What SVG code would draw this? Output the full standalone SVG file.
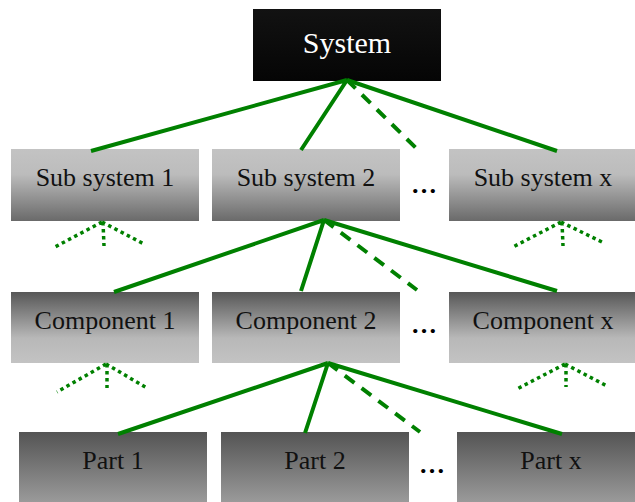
<svg xmlns="http://www.w3.org/2000/svg" width="635" height="502" viewBox="0 0 635 502">
  <defs>
    <linearGradient id="gSys" x1="0" y1="0" x2="0" y2="1">
      <stop offset="0" stop-color="#121212"/>
      <stop offset="1" stop-color="#050505"/>
    </linearGradient>
    <linearGradient id="gSub" x1="0" y1="0" x2="0" y2="1">
      <stop offset="0" stop-color="#c3c3c3"/>
      <stop offset="0.35" stop-color="#bcbcbc"/>
      <stop offset="1" stop-color="#6a6a6a"/>
    </linearGradient>
    <linearGradient id="gComp" x1="0" y1="0" x2="0" y2="1">
      <stop offset="0" stop-color="#575757"/>
      <stop offset="0.65" stop-color="#b8b8b8"/>
      <stop offset="1" stop-color="#c3c3c3"/>
    </linearGradient>
    <linearGradient id="gPart" x1="0" y1="0" x2="0" y2="1">
      <stop offset="0" stop-color="#545454"/>
      <stop offset="1" stop-color="#9c9c9c"/>
    </linearGradient>
  </defs>
  <style>
    text { font-size: 26px; text-anchor: middle; fill: #111; }
    .sys text { fill: #fff; font-size: 30px; }
    .solid { stroke: #008000; stroke-width: 4; fill: none; }
    .dash { stroke: #008000; stroke-width: 4; fill: none; stroke-dasharray: 12 9; }
    .dot { stroke: #008000; stroke-width: 3.5; fill: none; stroke-dasharray: 3.5 3.5; }
    .ell text { fill: #000; font-weight: bold; }
  </style>

  <g font-family="'Liberation Serif', 'Times New Roman', Times, 'DejaVu Serif', serif">
  <!-- nodes -->
  <g id="system" class="sys">
    <rect x="253" y="9" width="188" height="72" fill="url(#gSys)"/>
    <text x="347" y="53">System</text>
  </g>

  <g id="sub1"><rect x="11" y="149" width="188" height="72" fill="url(#gSub)"/><text x="105" y="186">Sub system 1</text></g>
  <g id="sub2"><rect x="212" y="149" width="188" height="72" fill="url(#gSub)"/><text x="306" y="186">Sub system 2</text></g>
  <g id="subx"><rect x="449" y="149" width="188" height="72" fill="url(#gSub)"/><text x="543" y="186">Sub system x</text></g>

  <g id="comp1"><rect x="11" y="292" width="188" height="71" fill="url(#gComp)"/><text x="105" y="329">Component 1</text></g>
  <g id="comp2"><rect x="212" y="292" width="188" height="71" fill="url(#gComp)"/><text x="306" y="329">Component 2</text></g>
  <g id="compx"><rect x="449" y="292" width="188" height="71" fill="url(#gComp)"/><text x="543" y="329">Component x</text></g>

  <g id="part1"><rect x="19" y="432" width="188" height="72" fill="url(#gPart)"/><text x="113" y="469">Part 1</text></g>
  <g id="part2"><rect x="221" y="432" width="188" height="72" fill="url(#gPart)"/><text x="315" y="469">Part 2</text></g>
  <g id="partx"><rect x="457" y="432" width="188" height="72" fill="url(#gPart)"/><text x="551" y="469">Part x</text></g>

  <g id="ellipses" class="ell">
    <text x="424" y="193">…</text>
    <text x="424" y="333">…</text>
    <text x="432" y="473">…</text>
  </g>
  </g>

  <!-- connectors -->
  <g id="connectors">
    <path class="solid" d="M347 80 L91 151 M347 80 L301 150 M347 80 L557 151"/>
    <path class="dash" d="M347 80 L416 148"/>

    <path class="solid" d="M324 220 L114 292 M324 220 L301 291 M324 220 L557 291"/>
    <path class="dash" d="M324 220 L417 290"/>

    <path class="solid" d="M328 363 L118 434 M328 363 L305 433 M328 363 L562 434"/>
    <path class="dash" d="M328 363 L420 432"/>

    <path class="dot" d="M102 222 L53 248 M102 222 L144 244 M103 222 L104 246"/>
    <path class="dot" d="M561 222 L513 247 M561 222 L602 242 M562 222 L563 246"/>
    <path class="dot" d="M106 364 L57 392 M106 364 L147 388 M107 364 L107 388"/>
    <path class="dot" d="M565 364 L517 389 M565 364 L607 386 M566 364 L566 387"/>
  </g>
</svg>
